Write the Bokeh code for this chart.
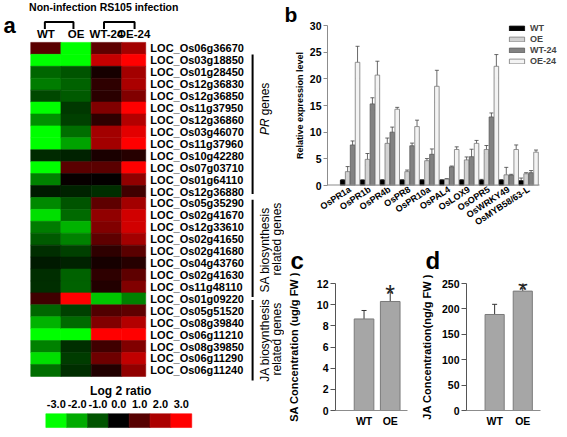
import math
from bokeh.plotting import figure
from bokeh.models import (ColumnDataSource, Range1d, Whisker, TeeHead, Legend, LegendItem,
                          Label, FixedTicker, AllLabels)
from bokeh.layouts import row, column
from bokeh.transform import linear_cmap
from bokeh.core.properties import value
from bokeh.embed import file_html
from bokeh.resources import INLINE

FONT = "Liberation Sans"

# ---------------- data: panel a (heatmap, log2 ratio) ----------------
genes = ["LOC_Os06g36670", "LOC_Os03g18850", "LOC_Os01g28450", "LOC_Os12g36830",
         "LOC_Os12g36850", "LOC_Os11g37950", "LOC_Os12g36860", "LOC_Os03g46070",
         "LOC_Os11g37960", "LOC_Os10g42280", "LOC_Os07g03710", "LOC_Os01g64110",
         "LOC_Os12g36880", "LOC_Os05g35290", "LOC_Os02g41670", "LOC_Os12g33610",
         "LOC_Os02g41650", "LOC_Os02g41680", "LOC_Os04g43760", "LOC_Os02g41630",
         "LOC_Os11g48110", "LOC_Os01g09220", "LOC_Os05g51520", "LOC_Os08g39840",
         "LOC_Os06g11210", "LOC_Os08g39850", "LOC_Os06g11290", "LOC_Os06g11240"]
heat_cols = ["WT", "OE", "WT-24", "OE-24"]
heat_WT = [1.05, -3, -1.2, -1.45, -0.85, -3, -1.7, -3, -3, -0.5, -3, -1.5, -0.3, -1.6,
           -2.6, -1.45, -1.05, -0.55, -0.3, -0.55, -0.55, 0.75, -1.2, -2.1, -3, -1.5, -2.6, -1.3]
heat_OE = [-3, -3, -1.0, -1.15, -1.05, -0.65, -0.75, -1.3, -1.9, -0.4, 1.05, 0.1, -0.4, -1.0,
           -1.25, -2.1, -1.5, -0.75, -0.4, -1.15, -1.15, 3, -0.75, -1.25, -3, -0.55, -0.7, -0.55]
heat_WT24 = [1.1, 2.3, 0.25, 0.55, 0.5, 1.5, 0.55, 1.9, 1.9, 0.3, 1.05, 0.05, -0.55, 1.1,
             1.7, 1.5, 1.1, 0.55, 0.25, 0.55, 0.4, -2.3, 0.95, 1.5, 3, 0.75, 1.3, 0.4]
heat_OE24 = [1.9, 3, 1.9, 2.0, 1.5, 3, 2.1, 2.65, 3, 0.45, 3, 1.7, 0.75, 1.9,
             2.45, 2.45, 1.9, 1.05, 0.45, 1.1, 1.5, -1.5, 1.1, 2.1, 3, 1.5, 2.25, 1.7]
cb_values = [-3, -2, -1, 0, 1, 2, 3]
cb_labels = ["-3.0", "-2.0", "-1.0", "0.0", "1.0", "2.0", "3.0"]

# ---------------- data: panel b ----------------
b_genes = ["OsPR1a", "OsPR1b", "OsPR4b", "OsPR8", "OsPR10a", "OsPAL4", "OsLOX9",
           "OsOPR5", "OsWRKY49", "OsMYB58/63-L"]
b_series = ["WT", "OE", "WT-24", "OE-24"]
b_yticks = [0, 5, 10, 15, 20, 25, 30]
b_WT = [1.0, 1.0, 1.0, 1.0, 1.0, 1.0, 1.0, 1.0, 1.0, 0.9]
b_WT_err = [0.1, 0.05, 0.1, 0.1, 0.1, 0.1, 0.1, 0.15, 0.1, 0.5]
b_OE = [2.6, 4.9, 7.9, 2.6, 4.65, 1.2, 4.8, 6.75, 2.0, 2.2]
b_OE_err = [0.95, 1.1, 1.0, 0.3, 0.4, 0.1, 0.55, 0.75, 1.4, 0.2]
b_WT24 = [7.6, 15.3, 10.0, 7.45, 5.85, 3.5, 5.4, 12.85, 1.95, 2.4]
b_WT24_err = [0.75, 1.15, 0.95, 0.5, 1.0, 0.15, 1.4, 0.75, 0.15, 0.4]
b_OE24 = [23.1, 20.7, 14.3, 11.05, 18.6, 6.75, 7.9, 22.35, 6.75, 6.25]
b_OE24_err = [3.0, 2.6, 0.35, 1.2, 3.0, 0.5, 0.55, 2.2, 0.85, 0.4]

# ---------------- data: panels c, d ----------------
cd_groups = ["WT", "OE"]
c_yticks = [0, 2, 4, 6, 8, 10, 12]
c_vals = [8.65, 10.3]
c_err = [0.8, 0.9]
d_yticks = [0, 50, 100, 150, 200, 250]
d_vals = [189, 235]
d_err = [20, 6]
cd_sig = [False, True]

# ---------------- layout scale (reference 567x437 -> page 559x429) ----------------
SX = 559 / 567
SY = 429 / 437


def green_red(n=255):
    pal = []
    for k in range(n):
        v = -3 + 6 * k / (n - 1)
        c = int(round(255 * abs(v) / 3))
        pal.append("#%02x%02x%02x" % ((c, 0, 0) if v > 0 else (0, c, 0)))
    return pal

PALETTE = green_red()


def txt(p, x, y, t, size, style="bold", align="left", baseline="middle", angle=0.0):
    p.text(x=x, y=y, text=t, text_font=value(FONT), text_font_style=style,
           text_font_size=size, text_align=align, text_baseline=baseline, angle=angle,
           text_color="black")


def letter(p, t, offset, standoff, size="22px"):
    p.title.text = t
    p.title.align = "left"
    p.title.offset = offset
    p.title.standoff = standoff
    p.title.text_font = FONT
    p.title.text_font_style = "bold"
    p.title.text_font_size = size
    p.title.text_color = "black"

# ================= panel a =================
HM_W = 284
hm = figure(width=HM_W, height=429, x_range=Range1d(0, HM_W / SX), y_range=Range1d(437, 0),
            x_axis_type=None, y_axis_type=None, toolbar_location=None,
            output_backend="svg", min_border=0, outline_line_color=None)

COL_EDGES = [30.7, 61.3, 92.0, 123.0, 147.3]
ROW_TOP, ROW_H = 42.7, 12.15
cx, cy, cw, cv = [], [], [], []
for j, series in enumerate([heat_WT, heat_OE, heat_WT24, heat_OE24]):
    for i, v in enumerate(series):
        cx.append((COL_EDGES[j] + COL_EDGES[j + 1]) / 2)
        cw.append(COL_EDGES[j + 1] - COL_EDGES[j])
        cy.append(ROW_TOP + (i + 0.5) * ROW_H)
        cv.append(v)
hsrc = ColumnDataSource(dict(x=cx, y=cy, w=cw, v=cv))
cmap = linear_cmap("v", PALETTE, -3, 3)
hm.rect(x="x", y="y", width="w", height=ROW_H, source=hsrc, fill_color=cmap,
        line_color=cmap, line_width=0.6)

row_y = [ROW_TOP + (i + 0.5) * ROW_H for i in range(len(genes))]
txt(hm, [152] * len(genes), row_y, genes, "11px")

col_x = [(COL_EDGES[j] + COL_EDGES[j + 1]) / 2 for j in range(4)]
txt(hm, col_x, [34] * 4, heat_cols, "11.5px", align="center")
hm.multi_line(xs=[[45, 45, 74, 74], [105, 105, 136, 136]], ys=[[29, 22, 22, 29]] * 2,
              line_color="black", line_width=2)
txt(hm, [29], [7], ["Non-infection RS105 infection"], "10.5px")
txt(hm, [3], [25], ["a"], "22px", baseline="alphabetic")

hm.segment(x0=[255.7] * 3, y0=[55, 203, 305], x1=[255.7] * 3, y1=[197, 302, 387],
           line_color="black", line_width=2)
A = math.pi / 2
txt(hm, [268], [137], ["PR"], "12px", style="italic", angle=A)
txt(hm, [268], [117], ["genes"], "12px", style="normal", angle=A)
txt(hm, [268, 280], [254, 243], ["SA biosynthesis", "related genes"], "12px",
    style="normal", align="center", angle=A)
txt(hm, [268, 280], [346, 345], ["JA biosynthesis", "related genes"], "12px",
    style="normal", align="center", angle=A)

CB_X0, CB_W = 46.0, 21.14
cb_x = [CB_X0 + (k + 0.5) * CB_W for k in range(len(cb_values))]
cbsrc = ColumnDataSource(dict(x=cb_x, v=cb_values))
hm.rect(x="x", y=428, width=CB_W, height=14, source=cbsrc, fill_color=cmap,
        line_color=cmap, line_width=0.6)
txt(hm, cb_x, [411] * len(cb_x), cb_labels, "11px", align="center")
txt(hm, [122], [398], ["Log 2 ratio"], "12px", align="center")

# ================= panel b =================
B_X0, B_X1 = -1.14, 9.55          # extent of the drawn x axis (category units)
B_FRAME_W = 212                    # pixels covered by that extent
B_EXT = B_X1 + 20 * (B_X1 - B_X0) / B_FRAME_W   # frame runs on to the right edge (legend room)
b = figure(width=559 - HM_W, height=234, x_range=Range1d(B_X0, B_EXT), y_range=Range1d(0, 30),
           toolbar_location=None, output_backend="svg", min_border_left=43,
           min_border_right=0, min_border_top=24, min_border_bottom=47,
           outline_line_color=None)
b.grid.visible = False

fills = ["#000000", "#d2d2d2", "#828282", "#f3f3f3"]
lines = ["#000000", "#7a7a7a", "#5a5a5a", "#7a7a7a"]
offsets = [-0.375, -0.125, 0.125, 0.375]
renderers = []
wsrcs = []
for k, (vals, errs) in enumerate([(b_WT, b_WT_err), (b_OE, b_OE_err),
                                  (b_WT24, b_WT24_err), (b_OE24, b_OE24_err)]):
    xs = [i + offsets[k] for i in range(len(b_genes))]
    src = ColumnDataSource(dict(x=xs, top=vals, up=[v + e for v, e in zip(vals, errs)],
                                lo=[v - e for v, e in zip(vals, errs)]))
    r = b.vbar(x="x", top="top", width=0.23, source=src, fill_color=fills[k],
               line_color=lines[k], line_width=0.8)
    renderers.append(r)
    wsrcs.append(src)
for src in wsrcs:
    b.add_layout(Whisker(source=src, base="x", upper="up", lower="lo",
                         line_color="#444444", line_width=0.8,
                         upper_head=TeeHead(size=4, line_color="#444444", line_width=0.8),
                         lower_head=TeeHead(size=4, line_color="#444444", line_width=0.8)))
# visible x-axis line only up to the last category
b.segment(x0=[B_X0], y0=[0], x1=[B_X1], y1=[0], line_color="#8c8c8c", line_width=2)

b.yaxis.ticker = FixedTicker(ticks=b_yticks)
b.yaxis.major_label_policy = AllLabels()
b.yaxis.minor_tick_line_color = None
b.yaxis.axis_line_color = "#8c8c8c"
b.yaxis.major_tick_line_color = "#8c8c8c"
b.yaxis.major_tick_out = 4
b.yaxis.major_tick_in = 0
b.yaxis.major_label_standoff = 2
b.yaxis.axis_label = "Relative expression level"
b.yaxis.axis_label_standoff = 2
b.xaxis.ticker = FixedTicker(ticks=list(range(len(b_genes))))
b.xaxis.major_label_overrides = {i: g for i, g in enumerate(b_genes)}
b.xaxis.major_label_orientation = 0.58
b.xaxis.major_tick_line_color = None
b.xaxis.major_tick_out = 0
b.xaxis.major_tick_in = 0
b.xaxis.minor_tick_line_color = None
b.xaxis.axis_line_color = None
b.xaxis.major_label_standoff = 3
for ax in b.axis:
    ax.major_label_text_font = FONT
    ax.major_label_text_font_style = "bold"
    ax.major_label_text_font_size = "9px"
    ax.major_label_text_color = "black"
    ax.axis_label_text_font = FONT
    ax.axis_label_text_font_style = "bold"
    ax.axis_label_text_font_size = "9px"
    ax.axis_label_text_color = "black"
b.yaxis.major_label_text_font_size = "10.5px"

legend = Legend(items=[LegendItem(label=s, renderers=[r]) for s, r in zip(b_series, renderers)],
                location=(180, 119), glyph_width=19, glyph_height=6, label_height=11,
                label_standoff=4, spacing=0, padding=0, margin=0,
                background_fill_alpha=0, border_line_color=None,
                label_text_font=FONT, label_text_font_style="bold",
                label_text_font_size="9px")
b.add_layout(legend)
letter(b, "b", -43, 0, "21px")

# ================= panels c, d =================
def conc_panel(width, left, right, xr, yr, ticks, vals, errs, bw, ylabel, standoff):
    p = figure(width=width, height=195, x_range=Range1d(*xr), y_range=Range1d(*yr),
               toolbar_location=None, output_backend="svg", min_border_left=left,
               min_border_right=right, min_border_top=49, min_border_bottom=18,
               outline_line_color=None)
    p.grid.visible = False
    src = ColumnDataSource(dict(x=list(range(len(cd_groups))), top=vals,
                                up=[v + e for v, e in zip(vals, errs)],
                                lo=[v - e for v, e in zip(vals, errs)]))
    p.vbar(x="x", top="top", width=bw, source=src, fill_color="#a6a6a6",
           line_color="#7a7a7a", line_width=1)
    p.add_layout(Whisker(source=src, base="x", upper="up", lower="lo",
                         line_color="#333333", line_width=1,
                         upper_head=TeeHead(size=5, line_color="#333333", line_width=1),
                         lower_head=TeeHead(size=5, line_color="#333333", line_width=1)))
    for i, s in enumerate(cd_sig):
        if s:
            p.add_layout(Label(x=i, y=vals[i] + errs[i], y_offset=-2, text="*",
                               text_font=FONT, text_font_size="25px", text_align="center",
                               text_baseline="alphabetic", text_color="#222222"))
    p.yaxis.ticker = FixedTicker(ticks=ticks)
    p.yaxis.minor_tick_line_color = None
    p.yaxis.axis_line_color = "#555555"
    p.yaxis.major_tick_line_color = "#555555"
    p.yaxis.major_tick_out = 5
    p.yaxis.major_tick_in = 0
    p.yaxis.major_label_standoff = 2
    p.yaxis.axis_label = ylabel
    p.yaxis.axis_label_standoff = standoff
    p.xaxis.ticker = FixedTicker(ticks=list(range(len(cd_groups))))
    p.xaxis.major_label_overrides = {i: g for i, g in enumerate(cd_groups)}
    p.xaxis.major_tick_line_color = None
    p.xaxis.major_tick_out = 0
    p.xaxis.major_tick_in = 0
    p.xaxis.minor_tick_line_color = None
    p.xaxis.axis_line_color = "#8c8c8c"
    p.xaxis.major_label_standoff = 4
    for ax in p.axis:
        ax.major_label_text_font = FONT
        ax.major_label_text_font_style = "bold"
        ax.major_label_text_font_size = "10.5px"
        ax.major_label_text_color = "black"
        ax.axis_label_text_font = FONT
        ax.axis_label_text_font_style = "bold"
        ax.axis_label_text_font_size = "11px"
        ax.axis_label_text_color = "black"
    return p

c = conc_panel(133, 47, 10, (-1.09, 1.66), (0, 12), c_yticks,
               c_vals, c_err, 0.75, "SA Concentration (ug/g FW )", 14)
letter(c, "c", -45, 19, "24px")
d = conc_panel(142, 45, 19, (-1.0, 1.63), (0, 250), d_yticks,
               d_vals, d_err, 0.68, "JA Concentration(ng/g FW )", 6)
letter(d, "d", -41, 19, "24px")

layout = row(hm, column(b, row(c, d)))
open("out.html", "w").write(file_html(layout, INLINE))
